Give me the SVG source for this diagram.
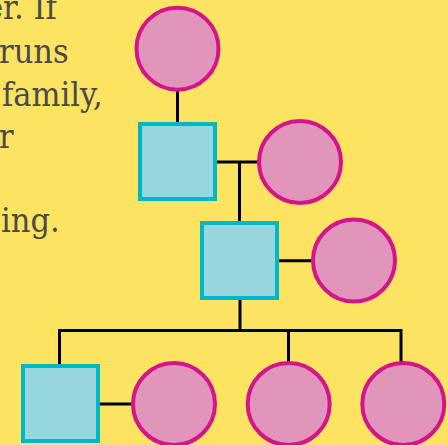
<svg xmlns="http://www.w3.org/2000/svg" width="448" height="445" viewBox="0 0 448 445">
  <style>
    .txt { font-family: "DejaVu Serif", "Liberation Serif", serif; font-stretch: condensed; font-size: 34px; fill: #4a4a48; }
    .f { fill: #E295BB; stroke: #D4148B; stroke-width: 4; }
    .m { fill: #98D6DE; stroke: #00B8C5; stroke-width: 4; }
    .line { fill: none; stroke: #000; stroke-width: 3; }
  </style>
  <rect width="448" height="445" fill="#FCE462"/>
  <g id="text">
    <text class="txt" x="-15" y="19">er. If</text>
    <text class="txt" x="-1" y="63">runs</text>
    <text class="txt" x="2" y="106">family,</text>
    <text class="txt" x="-1" y="148">r</text>
    <text class="txt" x="1" y="232">ing.</text>
  </g>
  <g id="connectors">
    <path class="line" d="M177.5 90 V123"/>
    <path class="line" d="M216 162 H260"/>
    <path class="line" d="M239.5 162 V222"/>
    <path class="line" d="M278 260.7 H314"/>
    <path class="line" d="M240 299 V330.5"/>
    <path class="line" d="M59.5 365 V330.5 H401 V362"/>
    <path class="line" d="M288.5 330.5 V362"/>
    <path class="line" d="M98 404 H134"/>
  </g>
  <g id="gen1-female"><circle class="f" cx="177.5" cy="48.7" r="41"/></g>
  <g id="gen2-male"><rect class="m" x="140" y="124" width="75" height="75"/></g>
  <g id="gen2-spouse"><circle class="f" cx="300" cy="162" r="41"/></g>
  <g id="gen3-male"><rect class="m" x="202" y="223" width="75" height="75"/></g>
  <g id="gen3-spouse"><circle class="f" cx="354" cy="260.5" r="41"/></g>
  <g id="gen4-male"><rect class="m" x="23" y="366" width="75" height="75"/></g>
  <g id="gen4-spouse"><circle class="f" cx="174" cy="404" r="41"/></g>
  <g id="gen4-female1"><circle class="f" cx="288.7" cy="404" r="41"/></g>
  <g id="gen4-female2"><circle class="f" cx="403.3" cy="404" r="41"/></g>
</svg>
